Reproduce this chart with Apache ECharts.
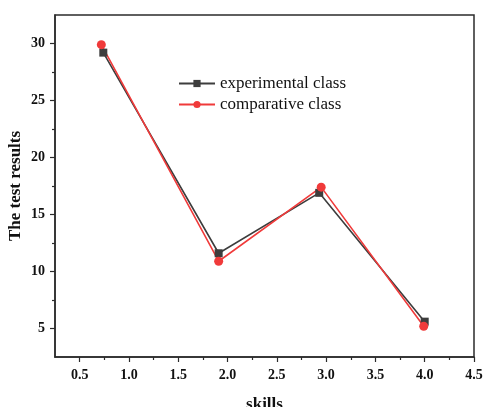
<!DOCTYPE html>
<html>
<head>
<meta charset="utf-8">
<script src="https://cdn.jsdelivr.net/npm/echarts@6/dist/echarts.min.js"></script>
<style>
  html, body { margin: 0; padding: 0; background: #fff; }
  #chart { width: 483px; height: 407px; }
</style>
</head>
<body>
<div id="chart"></div>
<script>
// 数据
var expX = [0.74, 1.91, 2.93, 4.0];
var expY = [29.2, 11.6, 16.9, 5.6];
var compX = [0.72, 1.91, 2.95, 3.99];
var compY = [29.9, 10.9, 17.4, 5.2];

var xTicks = [0.5, 1.0, 1.5, 2.0, 2.5, 3.0, 3.5, 4.0, 4.5];
var xMinorTicks = [0.75, 1.25, 1.75, 2.25, 2.75, 3.25, 3.75, 4.25];
var yTicks = [5, 10, 15, 20, 25, 30];
var yMinorTicks = [7.5, 12.5, 17.5, 22.5, 27.5];

var axisColor = '#2b2b2b';
var serif = "'Liberation Serif', 'DejaVu Serif', serif";

function pairs(xs, ys) {
    return xs.map(function (x, i) { return [x, ys[i]]; });
}

var chart = echarts.init(document.getElementById('chart'));

var option = {
    animation: false,
    grid: {
        left: 55,
        right: 9,
        top: 15,
        bottom: 50,
        outerBoundsMode: 'none',
        containLabel: false,
        show: true,
        borderColor: axisColor,
        borderWidth: 1.5,
        backgroundColor: 'transparent'
    },
    legend: {
        orient: 'vertical',
        left: 178,
        top: 75,
        padding: 0,
        itemWidth: 36,
        itemHeight: 9,
        itemGap: 4,
        textStyle: { fontFamily: serif, fontSize: 17, color: '#111' },
        data: ['experimental class', 'comparative class']
    },
    xAxis: [
        {
            type: 'value',
            min: 0.25,
            max: 4.5,
            name: 'skills',
            nameLocation: 'middle',
            nameGap: 39,
            nameMoveOverlap: false,
            nameTextStyle: { fontFamily: serif, fontSize: 17, fontWeight: 'bold', color: '#111' },
            axisLine: { onZero: false, lineStyle: { color: axisColor, width: 1.5 } },
            axisTick: { show: true, customValues: xTicks, length: 5, lineStyle: { color: axisColor, width: 1.2 } },
            axisLabel: {
                customValues: xTicks,
                margin: 11,
                fontFamily: serif, fontSize: 14, fontWeight: 'bold', color: '#111',
                formatter: function (v) { return v.toFixed(1); }
            },
            splitLine: { show: false }
        },
        {
            type: 'value',
            min: 0.25,
            max: 4.5,
            position: 'bottom',
            axisLine: { show: false, onZero: false },
            axisTick: { show: true, customValues: xMinorTicks, length: 3, lineStyle: { color: axisColor, width: 1.2 } },
            axisLabel: { show: false },
            splitLine: { show: false }
        }
    ],
    yAxis: [
        {
            type: 'value',
            min: 2.5,
            max: 32.5,
            name: 'The test results',
            nameLocation: 'middle',
            nameGap: 31,
            nameMoveOverlap: false,
            nameTextStyle: { fontFamily: serif, fontSize: 17, fontWeight: 'bold', color: '#111' },
            axisLine: { show: true, onZero: false, lineStyle: { color: axisColor, width: 1.5 } },
            axisTick: { show: true, customValues: yTicks, length: 5, lineStyle: { color: axisColor, width: 1.2 } },
            axisLabel: {
                customValues: yTicks,
                margin: 10,
                fontFamily: serif, fontSize: 14, fontWeight: 'bold', color: '#111'
            },
            splitLine: { show: false }
        },
        {
            type: 'value',
            min: 2.5,
            max: 32.5,
            position: 'left',
            axisLine: { show: false, onZero: false },
            axisTick: { show: true, customValues: yMinorTicks, length: 3, lineStyle: { color: axisColor, width: 1.2 } },
            axisLabel: { show: false },
            splitLine: { show: false }
        }
    ],
    series: [
        {
            name: 'experimental class',
            type: 'line',
            data: pairs(expX, expY),
            symbol: 'rect',
            symbolSize: 8,
            color: '#3d3d3d',
            lineStyle: { color: '#3d3d3d', width: 1.6 },
            itemStyle: { color: '#3d3d3d' }
        },
        {
            name: 'comparative class',
            type: 'line',
            data: pairs(compX, compY),
            symbol: 'circle',
            symbolSize: 9,
            color: '#f03a3a',
            lineStyle: { color: '#f03a3a', width: 1.6 },
            itemStyle: { color: '#f03a3a' }
        }
    ]
};

chart.setOption(option);
</script>
</body>
</html>
